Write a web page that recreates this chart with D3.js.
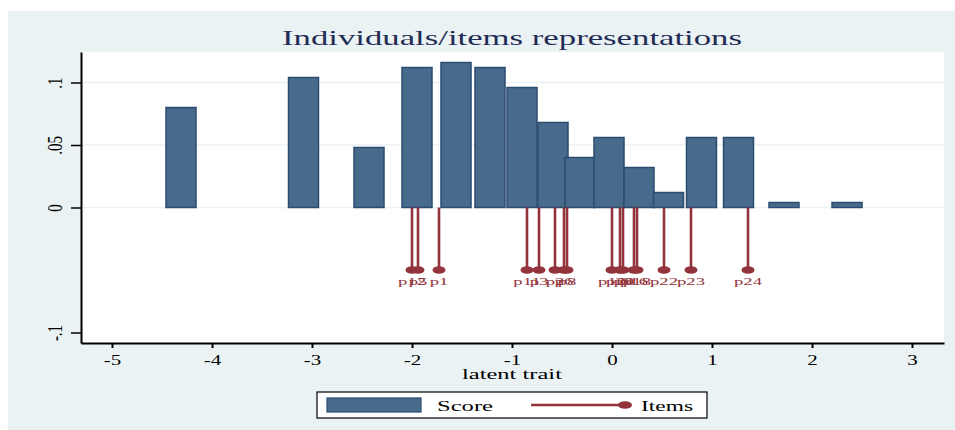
<!DOCTYPE html>
<html>
<head>
<meta charset="utf-8">
<script src="https://cdn.jsdelivr.net/npm/d3@7"></script>
<style>
  body { margin: 0; background: #ffffff; }
  text { font-family: "Liberation Serif", "Times New Roman", serif; }
</style>
</head>
<body>
<div id="chart"></div>
<script>
// score histogram (bar centres on the latent trait, proportions)
var barCenters = [-4.31, -3.085, -2.43, -1.95, -1.56, -1.22, -0.90, -0.59, -0.32, -0.03, 0.27, 0.565, 0.895, 1.265, 1.72, 2.35];
var barValues  = [0.080, 0.104, 0.048, 0.112, 0.116, 0.112, 0.096, 0.068, 0.040, 0.056, 0.032, 0.012, 0.056, 0.056, 0.004, 0.004];
var barWidth = 0.3;

// item difficulties
var itemNames = ["p12", "p5", "p1", "p11", "p3", "p2", "p6", "p8", "p10", "p20", "p9", "p16", "p18", "p22", "p23", "p24"];
var itemPos   = [-2.00, -1.94, -1.73, -0.85, -0.73, -0.57, -0.48, -0.45, 0.00, 0.08, 0.11, 0.22, 0.25, 0.52, 0.79, 1.36];
var itemLevel = -0.05;

var xTicks = [-5, -4, -3, -2, -1, 0, 1, 2, 3];
var yTicks = [-0.1, 0, 0.05, 0.1];
var yTickLabels = ["-.1", "0", ".05", ".1"];
var gridValues = [0, 0.05, 0.1];

var barFill = "#486a8b", barStroke = "#2a4c70", itemColor = "#93343c", bg = "#eaf2f3";

var width = 955, height = 430;
var margin = {top: 52, right: 11, bottom: 87, left: 81};

var svg = d3.select("#chart").append("svg")
    .attr("width", width)
    .attr("height", height);

// graph region
svg.append("rect")
    .attr("x", 8).attr("y", 11)
    .attr("width", width - 8).attr("height", height - 11)
    .style("fill", bg);

var x = d3.scaleLinear()
    .domain([-5.31, 3.32])
    .range([margin.left, width - margin.right]);

var y = d3.scaleLinear()
    .domain([-0.1084, 0.1244])
    .range([height - margin.bottom, margin.top]);

// plot region
svg.append("rect")
    .attr("x", margin.left).attr("y", margin.top)
    .attr("width", x.range()[1] - margin.left)
    .attr("height", y.range()[0] - margin.top)
    .style("fill", "white");

// grid
svg.append("g").selectAll("line")
    .data(gridValues)
  .enter().append("line")
    .attr("x1", margin.left).attr("x2", x.range()[1])
    .attr("y1", function(d) { return y(d); })
    .attr("y2", function(d) { return y(d); })
    .style("stroke", bg)
    .style("stroke-width", 1.6);

// title
svg.append("text")
    .attr("x", 512).attr("y", 45)
    .attr("text-anchor", "middle")
    .attr("textLength", 460)
    .attr("lengthAdjust", "spacingAndGlyphs")
    .style("font-size", "21px")
    .style("fill", "#1f2d55")
    .text("Individuals/items representations");

// bars
svg.append("g").selectAll("rect")
    .data(barCenters)
  .enter().append("rect")
    .attr("x", function(d) { return x(d - barWidth / 2); })
    .attr("width", function(d) { return x(d + barWidth / 2) - x(d - barWidth / 2); })
    .attr("y", function(d, i) { return y(barValues[i]); })
    .attr("height", function(d, i) { return y(0) - y(barValues[i]); })
    .style("fill", barFill)
    .style("stroke", barStroke)
    .style("stroke-width", 1.5);

// item spikes
var items = svg.append("g");
items.selectAll("line")
    .data(itemPos)
  .enter().append("line")
    .attr("x1", function(d) { return x(d); })
    .attr("x2", function(d) { return x(d); })
    .attr("y1", y(0))
    .attr("y2", y(itemLevel))
    .style("stroke", itemColor)
    .style("stroke-width", 2.6);

items.selectAll("ellipse")
    .data(itemPos)
  .enter().append("ellipse")
    .attr("cx", function(d) { return x(d); })
    .attr("cy", y(itemLevel))
    .attr("rx", 6.5)
    .attr("ry", 3.8)
    .style("fill", itemColor);

items.selectAll("text")
    .data(itemPos)
  .enter().append("text")
    .attr("transform", function(d) { return "translate(" + x(d) + "," + (y(itemLevel) + 15) + ") scale(1.7,1)"; })
    .attr("text-anchor", "middle")
    .style("font-size", "11px")
    .style("fill", itemColor)
    .text(function(d, i) { return itemNames[i]; });

// x axis
var xAxis = svg.append("g")
    .attr("transform", "translate(0," + y.range()[0] + ")")
    .call(d3.axisBottom(x).tickValues(xTicks).tickSize(5).tickSizeOuter(0)
      .tickFormat(function(d) { return String(d); }));
xAxis.select(".domain").style("stroke", "black").style("stroke-width", 2);
xAxis.selectAll(".tick line").style("stroke", "black").style("stroke-width", 2);
xAxis.selectAll(".tick text")
    .attr("y", null).attr("dy", null)
    .attr("transform", "translate(0,22) scale(1.4,1)")
    .style("font-size", "15px")
    .style("font-family", "Liberation Serif, serif")
    .style("fill", "black");

svg.append("text")
    .attr("x", 512).attr("y", 379)
    .attr("text-anchor", "middle")
    .attr("textLength", 100)
    .attr("lengthAdjust", "spacingAndGlyphs")
    .style("font-size", "15px")
    .text("latent trait");

// y axis
var yAxis = svg.append("g")
    .attr("transform", "translate(" + margin.left + ",0)")
    .call(d3.axisLeft(y).tickValues(yTicks).tickSize(10).tickSizeOuter(0)
      .tickFormat(function(d, i) { return yTickLabels[i]; }));
yAxis.select(".domain").style("stroke", "black").style("stroke-width", 2);
yAxis.selectAll(".tick line").style("stroke", "black").style("stroke-width", 1.5);
yAxis.selectAll(".tick text")
    .attr("x", null).attr("dy", null)
    .attr("text-anchor", "middle")
    .attr("transform", "translate(-19,0) scale(1.4,1) rotate(-90)")
    .style("font-size", "15px")
    .style("font-family", "Liberation Serif, serif")
    .style("fill", "black");

// legend
var legend = svg.append("g");
legend.append("rect")
    .attr("x", 317).attr("y", 392)
    .attr("width", 390).attr("height", 26)
    .style("fill", "white")
    .style("stroke", "black")
    .style("stroke-width", 1.2);
legend.append("rect")
    .attr("x", 327).attr("y", 398)
    .attr("width", 94).attr("height", 14)
    .style("fill", barFill)
    .style("stroke", barStroke)
    .style("stroke-width", 1.2);
legend.append("text")
    .attr("x", 437).attr("y", 411)
    .attr("textLength", 56)
    .attr("lengthAdjust", "spacingAndGlyphs")
    .style("font-size", "15px")
    .text("Score");
legend.append("line")
    .attr("x1", 531).attr("x2", 625)
    .attr("y1", 405).attr("y2", 405)
    .style("stroke", itemColor)
    .style("stroke-width", 2.6);
legend.append("ellipse")
    .attr("cx", 625).attr("cy", 405)
    .attr("rx", 7).attr("ry", 3.8)
    .style("fill", itemColor);
legend.append("text")
    .attr("x", 641).attr("y", 411)
    .attr("textLength", 52)
    .attr("lengthAdjust", "spacingAndGlyphs")
    .style("font-size", "15px")
    .text("Items");
</script>
</body>
</html>
